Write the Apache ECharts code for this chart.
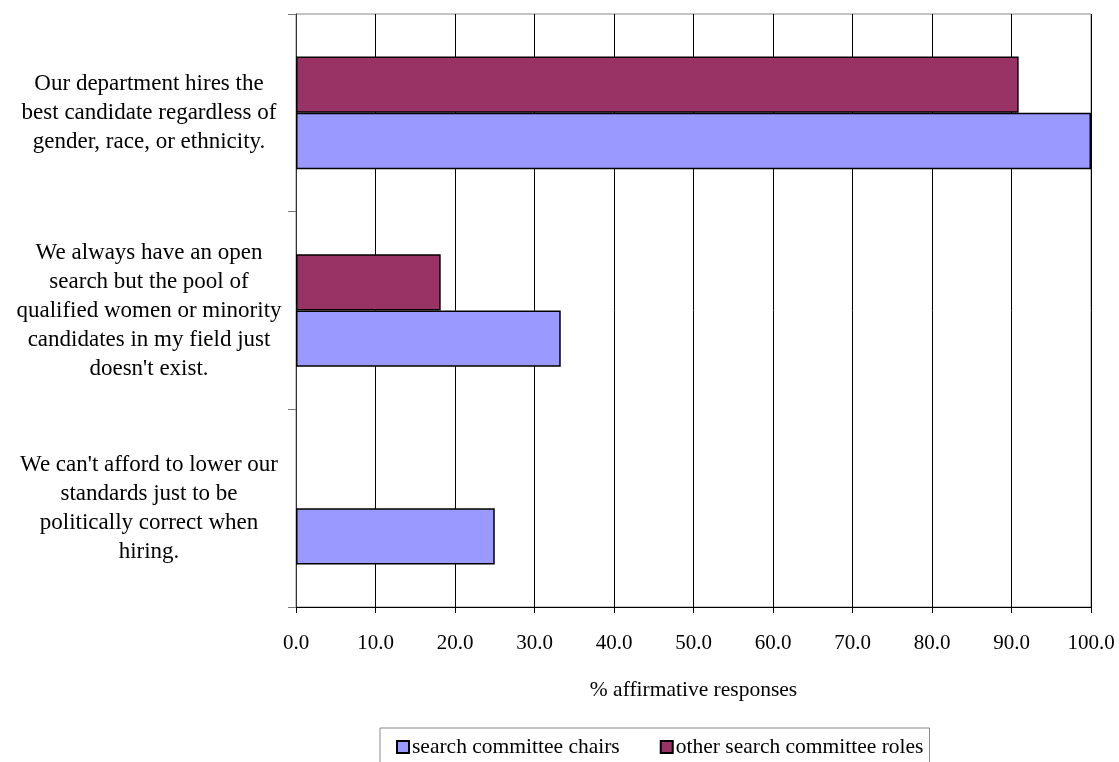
<!DOCTYPE html>
<html>
<head>
<meta charset="utf-8">
<script src="https://cdn.jsdelivr.net/npm/echarts@6/dist/echarts.min.js"></script>
<style>
  html, body { margin: 0; padding: 0; background: #fff; }
  #chart { width: 1119px; height: 762px; }
</style>
</head>
<body>
<div id="chart"></div>
<script>
// Statements, listed bottom to top as the category axis draws them
const categories = [
  "We can't afford to lower our\nstandards just to be\npolitically correct when\nhiring.",
  "We always have an open\nsearch but the pool of\nqualified women or minority\ncandidates in my field just\ndoesn't exist.",
  "Our department hires the\nbest candidate regardless of\ngender, race, or ethnicity."
];
const seriesNames = ["search committee chairs", "other search committee roles"];
const chairs = [25.0, 33.3, 100.0];
const otherRoles = [0, 18.2, 90.9];
const xTicks = [0, 10, 20, 30, 40, 50, 60, 70, 80, 90, 100];
const axisTitle = "% affirmative responses";

const FONT = "'Liberation Serif', 'Times New Roman', serif";

// a zero-length bar gets no outline, so nothing shows beside the axis
const barData = arr => arr.map(v => v === 0 ? { value: v, itemStyle: { borderWidth: 0 } } : v);

const chart = echarts.init(document.getElementById('chart'));
chart.setOption({
  animation: false,
  backgroundColor: '#fff',
  textStyle: { fontFamily: FONT, color: '#000' },
  grid: {
    left: 296, top: 14, right: 28, bottom: 155,
    show: true, borderColor: '#888', borderWidth: 1, backgroundColor: 'transparent'
  },
  xAxis: {
    type: 'value',
    min: xTicks[0],
    max: xTicks[xTicks.length - 1],
    interval: xTicks[1] - xTicks[0],
    name: axisTitle,
    nameLocation: 'middle',
    nameGap: 72,
    nameTextStyle: { fontFamily: FONT, fontSize: 21.5, color: '#000' },
    axisLine: { show: true, lineStyle: { color: '#000', width: 1 } },
    axisTick: { show: true, length: 6, lineStyle: { color: '#000' } },
    axisLabel: {
      fontFamily: FONT, fontSize: 21, color: '#000', margin: 26,
      formatter: v => v.toFixed(1)
    },
    splitLine: { show: true, lineStyle: { color: '#000', width: 1 } }
  },
  yAxis: {
    type: 'category',
    data: categories,
    axisLine: { show: true, lineStyle: { color: '#333', width: 1 } },
    axisTick: { show: true, length: 8, lineStyle: { color: '#777' } },
    axisLabel: {
      fontFamily: FONT, fontSize: 23, color: '#000',
      align: 'center', margin: 147, lineHeight: 29
    },
    splitLine: { show: false }
  },
  legend: {
    left: 380,
    top: 728,
    orient: 'horizontal',
    padding: [8, 6, 12, 16],
    itemGap: 40,
    itemWidth: 12,
    itemHeight: 12,
    icon: 'rect',
    borderColor: '#888',
    borderWidth: 1,
    textStyle: { fontFamily: FONT, fontSize: 21.5, color: '#000', padding: [0, 0, 0, -2] },
    data: seriesNames
  },
  series: [
    // drawn first so it sits above the chairs bar in each row
    {
      name: seriesNames[1],
      type: 'bar',
      data: barData(otherRoles),
      barGap: '0%',
      barCategoryGap: '43%',
      itemStyle: { color: '#993366', borderColor: '#000', borderWidth: 1.5 }
    },
    {
      name: seriesNames[0],
      type: 'bar',
      data: barData(chairs),
      barGap: '0%',
      barCategoryGap: '43%',
      itemStyle: { color: '#9999FF', borderColor: '#000', borderWidth: 1.5 }
    }
  ]
});
</script>
</body>
</html>
